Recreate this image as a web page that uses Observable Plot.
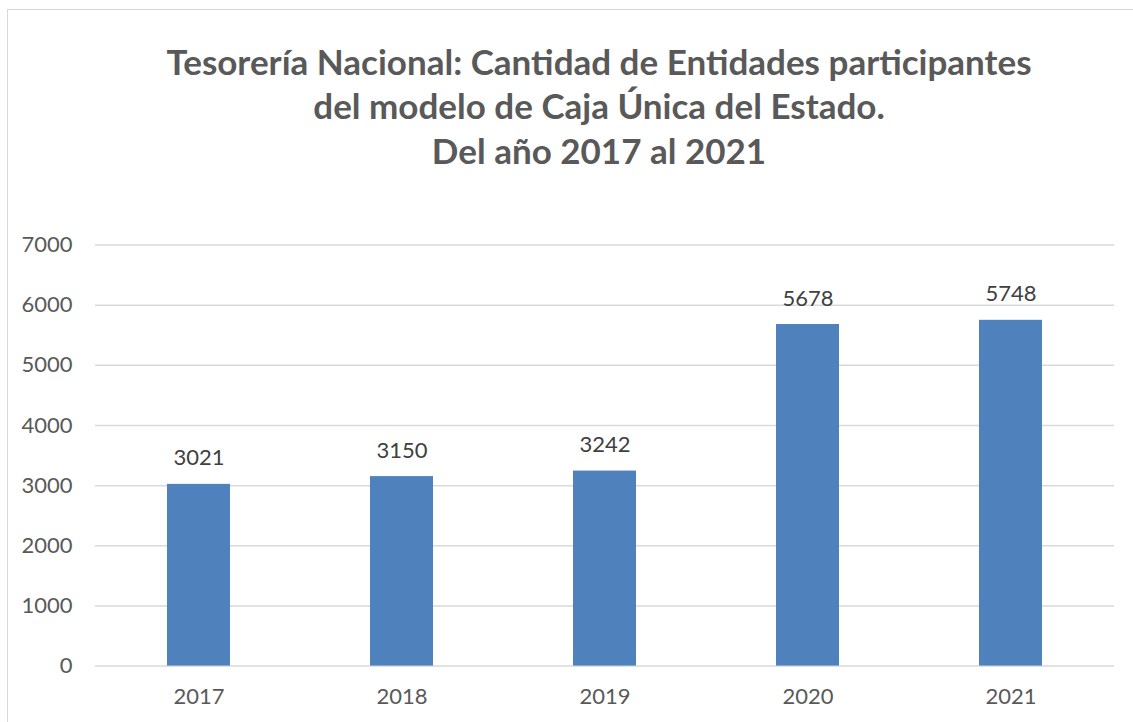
<!DOCTYPE html>
<html><head><meta charset="utf-8">
<script src="https://cdn.jsdelivr.net/npm/d3@7"></script>
<script src="https://cdn.jsdelivr.net/npm/@observablehq/plot@0.6"></script>
<style>
body{margin:0;width:1133px;height:722px;overflow:hidden;position:relative;background:#fff;font-family:Lato,sans-serif;}
#frame{position:absolute;left:7px;top:9px;width:1300px;height:800px;border-left:1px solid #d9d9d9;border-top:1px solid #d9d9d9;}
#title{position:absolute;left:0;top:38.5px;width:1198px;text-align:center;font-weight:700;font-size:35px;line-height:44.5px;color:#595959;}
#chart{position:absolute;left:0;top:200px;}
</style></head><body>
<div id="frame"></div>
<div id="title"></div>
<div id="chart"></div>
<script>
const titleLines = [
  "Tesorería Nacional: Cantidad de Entidades participantes",
  "del modelo de Caja Única del Estado.",
  "Del año 2017 al 2021"
];
const years = ["2017", "2018", "2019", "2020", "2021"];
const values = [3021, 3150, 3242, 5678, 5748];
const yTicks = [0, 1000, 2000, 3000, 4000, 5000, 6000, 7000];

const titleEl = document.getElementById("title");
titleLines.forEach(t => { const d = document.createElement("div"); d.textContent = t; titleEl.appendChild(d); });

const data = years.map((y, i) => ({year: y, value: values[i]}));

const chart = Plot.plot({
  width: 1133,
  height: 522,
  marginTop: 44.5,
  marginBottom: 56.4,
  marginLeft: 95,
  marginRight: 19,
  style: {fontFamily: "Lato, sans-serif", fontSize: "22px", color: "#595959", background: "transparent"},
  x: {domain: years, paddingInner: 0.688, paddingOuter: 0.344, label: null},
  y: {domain: [0, 7000], label: null},
  marks: [
    Plot.ruleY(yTicks, {stroke: "#d9d9d9", strokeWidth: 1.5}),
    Plot.barY(data, {x: "year", y: "value", fill: "#4F81BD"}),
    Plot.text(data, {x: "year", y: "value", text: d => String(d.value), lineAnchor: "bottom", dy: -19, fill: "#404040", fontSize: 22}),
    Plot.axisX({tickSize: 0, tickPadding: 22, fontSize: 22, fill: "#595959"}),
    Plot.axisY({ticks: yTicks, tickSize: 0, tickPadding: 23, tickFormat: d => String(d), fontSize: 22, fill: "#595959"})
  ]
});
document.getElementById("chart").appendChild(chart);
</script>
</body></html>
